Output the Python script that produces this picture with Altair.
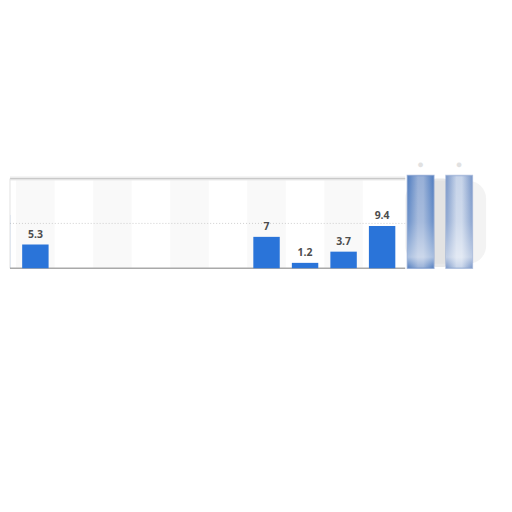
import altair as alt
import pandas as pd

# visible slots (index 0 is cut off at the left edge)
slots = [0, 1, 2, 3, 4, 5, 6, 7, 8, 9, 10]
values = [11.9, 5.3, 0, 0, 0, 0, 0, 7, 1.2, 3.7, 9.4]
labels = ["11.9", "5.3", "", "", "", "", "", "7", "1.2", "3.7", "9.4"]
# blurred (hidden) slots at the right
blur_slots = [11, 12]
blur_values = [20.7, 20.7]
blur_labels = ["●", "●"]
stripe_slots = [1, 3, 5, 7, 9]
grid_values = [10]
frame_top = 20

half = 0.343
df = pd.DataFrame({"slot": slots, "value": values, "label": labels})
df["lo"] = df["slot"] - half
df["hi"] = df["slot"] + half
df["base"] = 0.0
bars_df = df[df["value"] > 0]

bdf = pd.DataFrame({"slot": blur_slots, "value": blur_values, "label": blur_labels})
bdf["lo"] = bdf["slot"] - half
bdf["hi"] = bdf["slot"] + half
bdf["base"] = 0.0

sdf = pd.DataFrame({"slot": stripe_slots})
sdf["lo"] = sdf["slot"] - 0.5
sdf["hi"] = sdf["slot"] + 0.5
sdf["base"] = 0.0
sdf["top"] = float(frame_top)

xs = alt.Scale(domain=[0.3407, 13.164], nice=False, zero=False)
ys = alt.Scale(domain=[-52.38, 57.84], nice=False, zero=False)

X = lambda f: alt.X(f, type="quantitative", scale=xs, axis=None)
Y = lambda f: alt.Y(f, type="quantitative", scale=ys, axis=None)

stripes = alt.Chart(sdf).mark_rect(color="#f9f9f9", clip=True).encode(
    x=X("lo"), x2="hi", y=Y("top"), y2="base"
)

frame_df = pd.DataFrame({"x0": [0.3407], "x1": [10.6], "top": [float(frame_top)], "base": [0.0]})
top_shadow = alt.Chart(frame_df).mark_rule(color="#ececec", strokeWidth=4).encode(
    x=X("x0"), x2="x1", y=Y("top")
)
top_line = alt.Chart(frame_df).mark_rule(color="#c9c9c9", strokeWidth=1.4).encode(
    x=X("x0"), x2="x1", y=Y("top")
)
left_line = alt.Chart(frame_df).mark_rule(color="#e2e2e2", strokeWidth=1).encode(
    x=X("x0"), y=Y("top"), y2="base"
)

gdf = pd.DataFrame({"g": grid_values, "x0": [0.3407], "x1": [10.6]})
grid = alt.Chart(gdf).mark_rule(color="#c4c4c4", strokeWidth=0.8, strokeDash=[1, 2]).encode(
    x=X("x0"), x2="x1", y=Y("g")
)

base_line = alt.Chart(frame_df).mark_rule(color="#a9a9a9", strokeWidth=1.5).encode(
    x=X("x0"), x2="x1", y=Y("base")
)

bars = alt.Chart(bars_df).mark_rect(color="#2a74d9", clip=True).encode(
    x=X("lo"), x2="hi", y=Y("value"), y2="base"
)

texts = alt.Chart(bars_df).mark_text(
    baseline="bottom", dy=-5, fontSize=10.5, fontWeight="bold",
    font="Open Sans", color="#4d4d4d", clip=True
).encode(x=X("slot"), y=Y("value"), text="label:N")

# blurred part: soft grey glow behind the hidden bars
halo_df = pd.DataFrame({"x0": [10.6], "x1": [12.7], "top": [19.5], "base": [1.0]})
halo = alt.Chart(halo_df).mark_rect(color="#e9e9e9", opacity=0.55, cornerRadius=18).encode(
    x=X("x0"), x2="x1", y=Y("top"), y2="base"
)
gap_df = pd.DataFrame({"x0": [11.3], "x1": [11.7], "top": [20.0], "base": [0.3]})
gap = alt.Chart(gap_df).mark_rect(color="#d8d8d8", opacity=0.6, cornerRadius=4).encode(
    x=X("x0"), x2="x1", y=Y("top"), y2="base"
)


def hgrad(edge, mid):
    return alt.Gradient(
        gradient="linear",
        stops=[
            alt.GradientStop(color=edge, offset=0),
            alt.GradientStop(color=mid, offset=0.4),
            alt.GradientStop(color=mid, offset=0.6),
            alt.GradientStop(color=edge, offset=1),
        ],
        x1=0, x2=1, y1=0, y2=0,
    )


blur1 = alt.Chart(bdf[bdf["slot"] == blur_slots[0]]).mark_rect(
    color=hgrad("#4f7cbf", "#98b0d7"), stroke="#6f90c6", strokeWidth=1.5, strokeOpacity=0.6
).encode(x=X("lo"), x2="hi", y=Y("value"), y2="base")

blur2 = alt.Chart(bdf[bdf["slot"] == blur_slots[1]]).mark_rect(
    color=hgrad("#7896c8", "#c7d4e9"), stroke="#8aa3cf", strokeWidth=1.5, strokeOpacity=0.6
).encode(x=X("lo"), x2="hi", y=Y("value"), y2="base")

fade = alt.Gradient(
    gradient="linear",
    stops=[
        alt.GradientStop(color="rgba(255,255,255,0)", offset=0),
        alt.GradientStop(color="rgba(255,255,255,0.15)", offset=0.5),
        alt.GradientStop(color="rgba(255,255,255,0.5)", offset=0.88),
        alt.GradientStop(color="rgba(255,255,255,0)", offset=1),
    ],
    x1=0, x2=0, y1=0, y2=1,
)
blur_fade = alt.Chart(bdf).mark_rect(color=fade).encode(
    x=X("lo"), x2="hi", y=Y("value"), y2="base"
)

blur_text = alt.Chart(bdf).mark_text(
    baseline="bottom", dy=-5, fontSize=11, color="#dedede", opacity=0.9
).encode(x=X("slot"), y=Y("value"), text="label:N")

chart = alt.layer(
    stripes, top_shadow, top_line, left_line, grid, base_line,
    bars, texts, halo, gap, blur1, blur2, blur_fade, blur_text
).properties(width=496, height=496, padding=0).configure_view(stroke=None)

chart.save("out.html", embed_options={"renderer": "svg", "actions": False})
